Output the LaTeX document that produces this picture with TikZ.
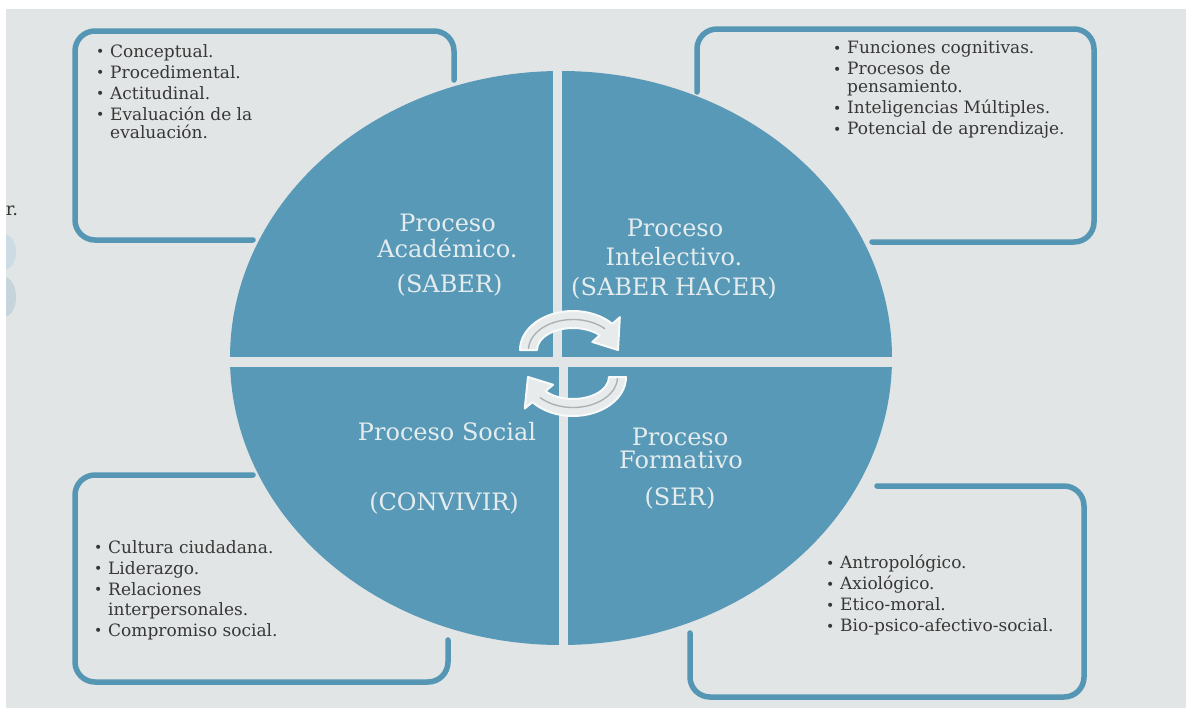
\documentclass[tikz,border=0pt]{standalone}
\usepackage{fontspec}
\setmainfont{DejaVu Serif}
\usetikzlibrary{calc}
\definecolor{bg}{RGB}{226,229,229}
\definecolor{qblue}{RGB}{88,153,183}
\definecolor{bblue}{RGB}{84,150,180}
\definecolor{qtext}{RGB}{228,236,238}
\definecolor{btext}{RGB}{55,55,55}
\definecolor{arrfill}{RGB}{232,235,235}
\definecolor{arrline}{RGB}{172,178,178}
\definecolor{paleblue}{RGB}{204,219,228}
\newcommand{\lbul}{\makebox[14pt][l]{\raisebox{0.5pt}{\fontsize{14}{14}\selectfont •}}}
\begin{document}
\begin{tikzpicture}[x=1pt,y=-1pt,
  boxline/.style={draw=bblue,line width=5.5pt,rounded corners=20pt,line cap=round},
  quadtext/.style={text=qtext,font=\fontsize{24}{25}\selectfont,inner sep=0pt},
  listtext/.style={text=btext,font=\fontsize{17}{21}\selectfont,align=left,anchor=north west,inner sep=0pt},
  vgap/.style={draw=bg,line width=9pt},
  hgap/.style={draw=bg,line width=10pt},
  arrowbody/.style={fill=arrfill,draw=white!70!arrfill,line width=2pt,line join=round},
  arrowmid/.style={draw=arrline,line width=1.4pt}]
% page
\fill[white] (0,0) rectangle (1186,715);
\fill[bg] (6,9) rectangle (1186,708);
\useasboundingbox (0,0) rectangle (1186,715);
\begin{scope}
  \clip (6,9) rectangle (1186,708);
  \fill[paleblue] (4,252) ellipse [x radius=12, y radius=18];
  \fill[paleblue!92!gray] (4,297) ellipse [x radius=12, y radius=20];
\end{scope}
\node[text=btext,font=\fontsize{18}{18}\selectfont,inner sep=0pt] (edge) at (12,211) {r.};
% boxes (open outlines, partly hidden by the circle)
\draw[boxline] (253,240) -- (75,240) -- (75,31) -- (454,31) -- (454,80);
\draw[boxline] (697,92) -- (697,29) -- (1094,29) -- (1094,242) -- (872,242);
\draw[boxline] (253,475) -- (75,475) -- (75,682) -- (448,682) -- (448,640);
\draw[boxline] (877,486) -- (1084,486) -- (1084,697) -- (690,697) -- (690,633);
% circle
\fill[qblue] (561,358) ellipse [x radius=331, y radius=287];
\draw[vgap] (557.5,62) -- (557.5,363);
\draw[vgap] (563,363) -- (563,652);
\draw[hgap] (222,362) -- (900,362);
% circular arrows
\coordinate (arrA) at (573,350);
\coordinate (arrB) at (573,377);
\draw[arrowbody] ($(arrA)+(180:53 and 39)$) arc[start angle=180,end angle=318,x radius=53,y radius=39]
  -- ($(arrA)+(318:63 and 49)$) -- ($(arrA)+(360:45 and 31)$) -- ($(arrA)+(318:26 and 12)$)
  -- ($(arrA)+(318:36 and 22)$) arc[start angle=318,end angle=180,x radius=36,y radius=22] -- cycle;
\draw[arrowmid] ($(arrA)+(182:44.5 and 30.5)$) arc[start angle=182,end angle=316,x radius=44.5,y radius=30.5];
\draw[arrowbody] ($(arrB)+(0:53 and 39)$) arc[start angle=0,end angle=140,x radius=53,y radius=39]
  -- ($(arrB)+(140:63 and 49)$) -- ($(arrB)+(180:45 and 31)$) -- ($(arrB)+(140:26 and 12)$)
  -- ($(arrB)+(140:36 and 22)$) arc[start angle=140,end angle=0,x radius=36,y radius=22] -- cycle;
\draw[arrowmid] ($(arrB)+(2:44.5 and 30.5)$) arc[start angle=2,end angle=138,x radius=44.5,y radius=30.5];
% quadrant labels
\node[quadtext] (qa1) at (447.5,223) {Proceso};
\node[quadtext] (qa2) at (447.5,248) {Académico.};
\node[quadtext] (qa3) at (449.5,285) {(SABER)};
\node[quadtext] (qi1) at (675,228) {Proceso};
\node[quadtext] (qi2) at (674,257) {Intelectivo.};
\node[quadtext] (qi3) at (674,288) {(SABER HACER)};
\node[quadtext] (qs1) at (447,432) {Proceso Social};
\node[quadtext] (qs2) at (444,503) {(CONVIVIR)};
\node[quadtext] (qf1) at (680,437) {Proceso};
\node[quadtext] (qf2) at (681,460) {Formativo};
\node[quadtext] (qf3) at (680,498) {(SER)};
% lists
\node[listtext] (la) at (96,44) {\lbul Conceptual.\\ \lbul Procedimental.\\ \lbul Actitudinal.\\ \lbul Evaluación de la\\[-3pt] \hspace*{14pt}evaluación.};
\node[listtext] (li) at (833,41) {\lbul Funciones cognitivas.\\ \lbul Procesos de\\[-3pt] \hspace*{14pt}pensamiento.\\ \lbul Inteligencias Múltiples.\\ \lbul Potencial de aprendizaje.};
\node[listtext] (ls) at (94,540) {\lbul Cultura ciudadana.\\ \lbul Liderazgo.\\ \lbul Relaciones\\[-1pt] \hspace*{14pt}interpersonales.\\ \lbul Compromiso social.};
\node[listtext] (lf) at (826,555) {\lbul Antropológico.\\ \lbul Axiológico.\\ \lbul Etico-moral.\\ \lbul Bio-psico-afectivo-social.};
\end{tikzpicture}
\end{document}
